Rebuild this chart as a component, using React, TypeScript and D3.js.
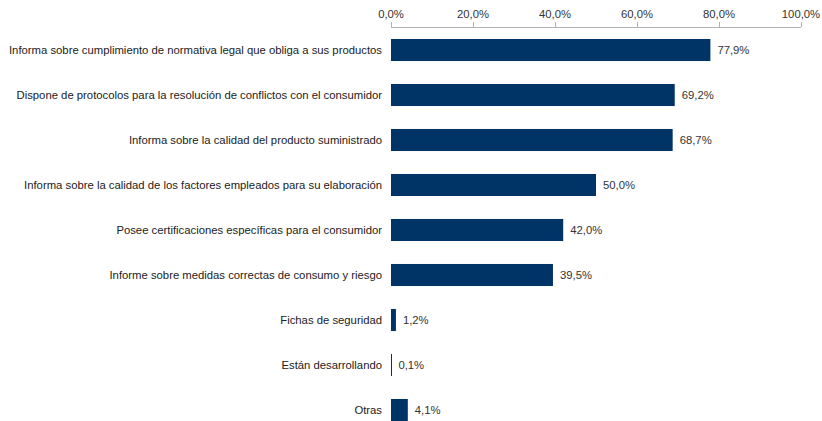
import React from 'react';
import * as d3 from 'd3';

// categories and values (percent)
const categories = [
    'Informa sobre cumplimiento de normativa legal que obliga a sus productos',
    'Dispone de protocolos para la resolución de conflictos con el consumidor',
    'Informa sobre la calidad del producto suministrado',
    'Informa sobre la calidad de los factores empleados para su elaboración',
    'Posee certificaciones específicas para el consumidor',
    'Informe sobre medidas correctas de consumo y riesgo',
    'Fichas de seguridad',
    'Están desarrollando',
    'Otras',
];
const values = [77.9, 69.2, 68.7, 50.0, 42.0, 39.5, 1.2, 0.1, 4.1];
const ticks = [0, 20, 40, 60, 80, 100];

const fmt = (v: number) => v.toFixed(1).replace('.', ',') + '%';

const App: React.FC = () => {
    const width = 822;
    const height = 421;
    const left = 391;
    const right = 801;
    const axisY = 27;

    const x = d3.scaleLinear().domain([0, 100]).range([left, right]);
    const y = d3.scaleBand<string>()
        .domain(categories)
        .range([27.5, 432.5])
        .paddingInner(0.51)
        .paddingOuter(0.255);

    const font = 'Liberation Sans, Arial, sans-serif';
    const fs = 11.3;

    return (
        <svg width={width} height={height} style={{ position: 'absolute', left: 0, top: 0, background: '#fff' }}
            fontFamily={font}>
            {/* axis */}
            <line x1={x(0)} x2={x(100)} y1={axisY + 0.5} y2={axisY + 0.5} stroke="#b3b3b3" />
            {ticks.map(t => (
                <g key={t}>
                    <line x1={Math.round(x(t)) + 0.5} x2={Math.round(x(t)) + 0.5} y1={axisY - 5} y2={axisY}
                        stroke="#b3b3b3" />
                    <text x={x(t)} y={18} textAnchor="middle" fontSize={fs} fill="#333">{fmt(t)}</text>
                </g>
            ))}
            {/* bars */}
            {categories.map((c, i) => {
                const by = y(c)!;
                const bh = y.bandwidth();
                return (
                    <g key={c}>
                        <text x={382} y={by + bh / 2} dy="0.35em" textAnchor="end" fontSize={fs} fill="#222">{c}</text>
                        <rect x={x(0)} y={by} width={Math.max(x(values[i]) - x(0), 1)} height={bh} fill="#003366" />
                        <text x={x(values[i]) + 7} y={by + bh / 2} dy="0.35em" fontSize={fs} fill="#333">
                            {fmt(values[i])}
                        </text>
                    </g>
                );
            })}
        </svg>
    );
};

export default App;
